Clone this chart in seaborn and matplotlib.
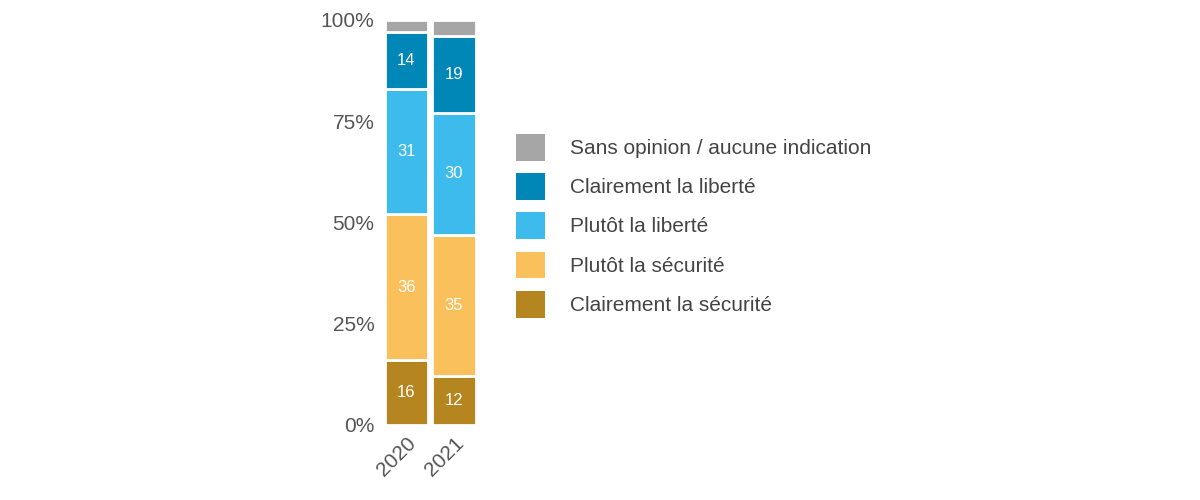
import pandas as pd
import seaborn as sns
import matplotlib.pyplot as plt
from matplotlib.patches import Patch

# Data (percent)
years = ['2020', '2021']
categories = ['Clairement la sécurité', 'Plutôt la sécurité', 'Plutôt la liberté',
              'Clairement la liberté', 'Sans opinion / aucune indication']
clair_securite = [16, 12]
plutot_securite = [36, 35]
plutot_liberte = [31, 30]
clair_liberte = [14, 19]
sans_opinion = [3, 4]
series = [clair_securite, plutot_securite, plutot_liberte, clair_liberte, sans_opinion]
colors = ['#b58520', '#f9c05b', '#3dbbec', '#0087b8', '#a6a6a6']

plt.rcParams['font.family'] = 'Liberation Sans'

fig = plt.figure(figsize=(12, 5), dpi=100)
ax = fig.add_axes([0.319, 0.15, 0.079, 0.81])

bottom = [0, 0]
for name, vals, col in zip(categories, series, colors):
    df = pd.DataFrame({'year': years, 'value': vals})
    sns.barplot(data=df, x='year', y='value', color=col, width=0.92,
                bottom=bottom, edgecolor='white', linewidth=2, ax=ax,
                saturation=1)
    if name != categories[-1]:
        for i, v in enumerate(vals):
            ax.text(i, bottom[i] + v / 2, str(v), ha='center', va='center',
                    color='white', fontsize=12)
    bottom = [b + v for b, v in zip(bottom, vals)]

ax.set_ylim(0, 100)
ax.set_xlim(-0.5, 1.5)
ax.set_yticks([0, 25, 50, 75, 100])
ax.set_yticklabels(['0%', '25%', '50%', '75%', '100%'])
ax.set_xlabel('')
ax.set_ylabel('')
for s in ax.spines.values():
    s.set_visible(False)
ax.tick_params(axis='both', length=0, labelsize=15, colors='#555555', pad=6)
plt.setp(ax.get_xticklabels(), rotation=45, ha='right', rotation_mode='anchor')

handles = [Patch(facecolor=c, edgecolor='none') for c in colors[::-1]]
fig.legend(handles, categories[::-1], loc='upper left', bbox_to_anchor=(0.414, 0.77),
           frameon=False, fontsize=15, labelcolor='#444444', handlelength=1.4,
           handleheight=1.6, labelspacing=0.6, handletextpad=1.2)

fig.savefig('out.png', dpi=100)
